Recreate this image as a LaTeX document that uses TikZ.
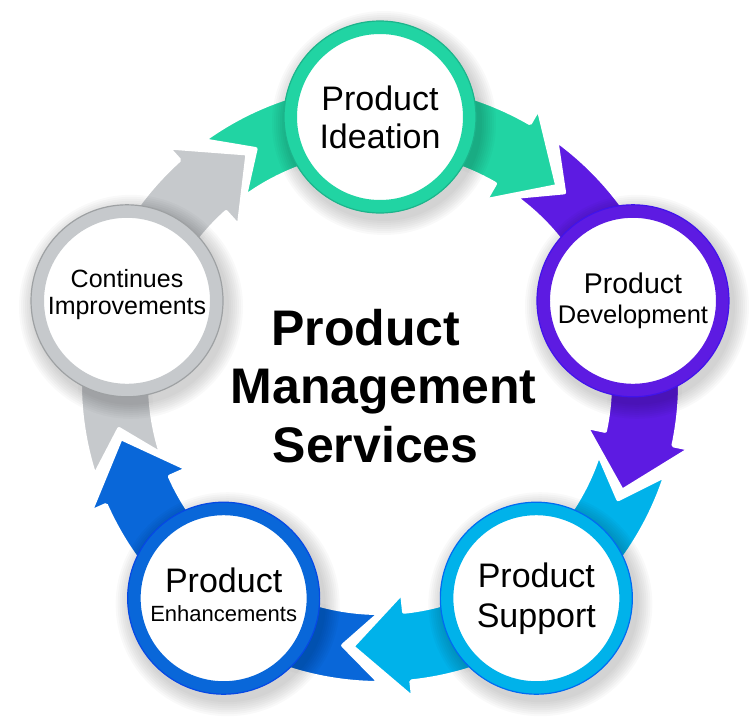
\documentclass[tikz,border=0pt]{standalone}
\usepackage{fontspec}
\setmainfont{Liberation Sans}
\usepackage{xcolor}
\usepackage{tikz}
\usetikzlibrary{calc}

\definecolor{ideagreen}{RGB}{33,212,163}
\definecolor{devpurple}{RGB}{93,27,226}
\definecolor{supcyan}{RGB}{0,178,234}
\definecolor{enhblue}{RGB}{9,103,217}
\definecolor{impgray}{RGB}{198,201,204}

% curved band round the hub: #1 colour, #2 angle of the stage it leaves
\newcommand{\stageband}[2]{%
  \filldraw[fill=#1,draw=white,line width=4pt,line join=round]
    (#2+36:300pt) arc[start angle=#2+36,end angle=#2-30,radius=300pt]
    -- (#2-30:317pt) -- (#2-42:265pt) -- (#2-30:211pt)
    -- (#2-30:230pt) arc[start angle=#2-30,end angle=#2+36,radius=230pt]
    -- (#2+28:265pt) -- cycle;}

\tikzset{
  stage/.style={circle,minimum size=179pt,inner sep=0pt,fill=white,draw=#1,line width=13pt},
  rim/.style={circle,minimum size=192pt,inner sep=0pt,draw=#1,line width=1.2pt},
  stagetext/.style={align=center,text=black,inner sep=0pt},
}

\begin{document}
\begin{tikzpicture}[x=1pt,y=1pt]
  \useasboundingbox (-380,-338) rectangle (371,383);
  \coordinate (hub) at (0,0);

  % bands
  \stageband{ideagreen}{90}
  \stageband{devpurple}{18}
  \stageband{supcyan}{-54}
  \stageband{enhblue}{-126}
  \stageband{impgray}{162}

  % soft shadows under the stages
  \foreach \ang in {90,18,-54,-126,162}
    \foreach \s in {2,4,...,16}
      \fill[black,opacity=.025] ([shift={(4,-6)}]\ang:266pt) circle[radius=96pt+\s*1pt];

  % stages
  \node[stage=ideagreen] (ideation) at (90:266pt) {};
  \node[rim=ideagreen!85!black] at (ideation) {};
  \node[stage=devpurple] (development) at (18:266pt) {};
  \node[rim=devpurple!70!blue] at (development) {};
  \node[stage=supcyan] (support) at (-54:266pt) {};
  \node[rim=supcyan!60!blue] at (support) {};
  \node[stage=enhblue] (enhance) at (-126:266pt) {};
  \node[rim=enhblue!70!blue] at (enhance) {};
  \node[stage=impgray] (improve) at (162:266pt) {};
  \node[rim=impgray!80!black] at (improve) {};

  % labels
  \node[stagetext,font=\fontsize{34}{38}\selectfont] (ideation text) at (ideation) {Product\\Ideation};
  \node[stagetext,font=\fontsize{25.5}{30}\selectfont] (development text) at (development)
    {{\fontsize{28.5}{30}\selectfont Product}\\Development};
  \node[stagetext,font=\fontsize{34}{40}\selectfont] (support text) at (support) {Product\\Support};
  \node[stagetext,font=\fontsize{22}{29}\selectfont] (enhance text) at ([yshift=3.5]enhance)
    {{\fontsize{34}{29}\selectfont Product}\\Enhancements};
  \node[stagetext,font=\fontsize{25}{27}\selectfont] (improve text) at ([yshift=6]improve)
    {Continues\\Improvements};

  \node[align=center,font=\fontsize{50}{58.5}\selectfont\bfseries,inner sep=0pt] (title)
    at ([shift={(3.7,-3)}]hub) {Product\kern36pt\\Management\\Services\kern16pt};
\end{tikzpicture}
\end{document}
